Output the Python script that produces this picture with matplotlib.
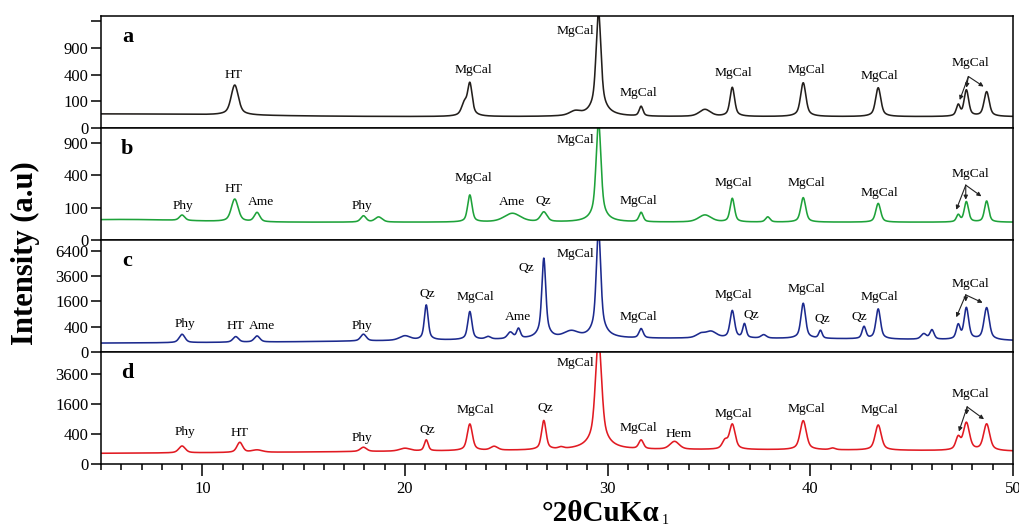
import numpy as np
import matplotlib
matplotlib.use('Agg')
import matplotlib.pyplot as plt
from matplotlib.ticker import MultipleLocator

plt.rcParams['font.family'] = ['Liberation Serif', 'DejaVu Serif']

# --- peak tables: position (deg 2theta), intensity at top, FWHM ---
pos_a = [11.6, 22.95, 23.2, 28.4, 29.55, 31.65, 34.8, 36.15, 39.65, 43.35, 47.3, 47.7, 48.7]
int_a = [260, 90, 280, 36, 1900, 64, 48, 232, 288, 228, 74, 203, 185]
fwhm_a = [0.35, 0.3, 0.22, 0.6, 0.22, 0.2, 0.6, 0.22, 0.25, 0.25, 0.2, 0.22, 0.25]
bg_a = [18, 10, 5.0, 6.0]          # level, hump height, hump centre, hump width

pos_b = [9.0, 11.6, 12.7, 17.95, 18.7, 23.2, 25.3, 26.85, 29.55, 31.65, 34.8, 36.15, 37.9,
         39.65, 43.35, 47.3, 47.7, 48.7]
int_b = [59, 159, 71, 55, 50, 192, 67, 73, 1350, 71, 59, 164, 50, 170, 127, 59, 139, 144]
fwhm_b = [0.3, 0.35, 0.3, 0.3, 0.4, 0.22, 0.9, 0.35, 0.22, 0.22, 0.7, 0.22, 0.25,
          0.25, 0.25, 0.2, 0.22, 0.22]
bg_b = [30, 10, 6.0, 3.0]

pos_c = [9.0, 11.65, 12.7, 17.95, 20.0, 21.05, 23.2, 24.1, 25.2, 25.6, 26.85, 28.2, 29.55,
         31.65, 34.6, 35.1, 36.15, 36.75, 37.7, 39.65, 40.5, 42.65, 43.35, 45.6, 46.0,
         47.3, 47.7, 48.7]
int_c = [196, 147, 160, 196, 160, 1380, 1020, 140, 233, 331, 5490, 257, 9500,
         331, 200, 257, 1067, 490, 180, 1480, 284, 400, 1156, 202, 302,
         455, 1226, 1226]
fwhm_c = [0.3, 0.3, 0.3, 0.3, 0.6, 0.18, 0.2, 0.3, 0.3, 0.2, 0.18, 0.8, 0.2,
          0.22, 0.5, 0.6, 0.22, 0.18, 0.3, 0.22, 0.18, 0.2, 0.22, 0.3, 0.22,
          0.2, 0.22, 0.25]
bg_c = [45, 70, 35.0, 13.0]

pos_d = [9.0, 11.85, 12.7, 17.95, 20.0, 21.05, 23.2, 24.4, 26.85, 27.7, 29.55, 31.65, 33.3,
         35.8, 36.15, 39.65, 41.1, 43.35, 47.3, 47.7, 48.7]
int_d = [144, 208, 87, 124, 109, 256, 711, 134, 834, 110, 7000, 242, 222,
         241, 700, 834, 109, 676, 316, 760, 711]
fwhm_d = [0.35, 0.3, 0.6, 0.35, 0.6, 0.2, 0.25, 0.4, 0.22, 0.3, 0.28, 0.25, 0.5,
          0.3, 0.28, 0.3, 0.3, 0.3, 0.25, 0.3, 0.3]
bg_d = [45, 45, 35.0, 15.0]

samples = ['a', 'b', 'c', 'd']
colors = ['#231f1c', '#1ea23a', '#1c2a8e', '#e11a22']
ylims = [1764, 1190, 7830, 5575]
yticks = [[0, 100, 400, 900, 1600], [0, 100, 400, 900],
          [0, 400, 1600, 3600, 6400], [0, 400, 1600, 3600]]
ytick_labels = [['0', '100', '400', '900', ''], ['0', '100', '400', '900'],
                ['0', '400', '1600', '3600', '6400'], ['0', '400', '1600', '3600']]

# phase labels (text, x centre, y as axes fraction)
labels = [
    [('HT', 11.57, 0.47), ('MgCal', 23.4, 0.52), ('MgCal', 28.4, 0.87), ('MgCal', 31.5, 0.31),
     ('MgCal', 36.2, 0.49), ('MgCal', 39.8, 0.52), ('MgCal', 43.4, 0.46), ('MgCal', 47.9, 0.58)],
    [('Phy', 9.03, 0.30), ('HT', 11.57, 0.455), ('Ame', 12.9, 0.34), ('Phy', 17.87, 0.30),
     ('MgCal', 23.4, 0.55), ('Ame', 25.3, 0.34), ('Qz', 26.84, 0.35), ('MgCal', 28.4, 0.89),
     ('MgCal', 31.5, 0.35), ('MgCal', 36.2, 0.51), ('MgCal', 39.8, 0.51), ('MgCal', 43.4, 0.42),
     ('MgCal', 47.9, 0.59)],
    [('Phy', 9.15, 0.25), ('HT', 11.65, 0.235), ('Ame', 12.93, 0.235), ('Phy', 17.87, 0.235),
     ('Qz', 21.08, 0.52), ('MgCal', 23.5, 0.49), ('Ame', 25.6, 0.31), ('Qz', 26.0, 0.75),
     ('MgCal', 28.4, 0.875), ('MgCal', 31.5, 0.31), ('MgCal', 36.2, 0.51), ('Qz', 37.1, 0.33),
     ('MgCal', 39.8, 0.56), ('Qz', 40.6, 0.295), ('Qz', 42.4, 0.315), ('MgCal', 43.4, 0.49),
     ('MgCal', 47.9, 0.61)],
    [('Phy', 9.15, 0.29), ('HT', 11.86, 0.28), ('Phy', 17.87, 0.23), ('Qz', 21.08, 0.30),
     ('MgCal', 23.5, 0.48), ('Qz', 26.9, 0.50), ('MgCal', 28.4, 0.90), ('MgCal', 31.5, 0.32),
     ('Hem', 33.5, 0.27), ('MgCal', 36.2, 0.45), ('MgCal', 39.8, 0.49), ('MgCal', 43.4, 0.48),
     ('MgCal', 47.9, 0.625)],
]
# arrows from the last MgCal label to the 47-49 deg triplet
arrows = [
    ((47.8, 0.46), [(47.37, 0.25), (47.7, 0.36), (48.55, 0.37)]),
    ((47.67, 0.49), [(47.2, 0.27), (47.67, 0.36), (48.44, 0.39)]),
    ((47.67, 0.51), [(47.2, 0.31), (47.67, 0.45), (48.5, 0.44)]),
    ((47.74, 0.51), [(47.33, 0.29), (47.7, 0.44), (48.57, 0.40)]),
]

tables = [(pos_a, int_a, fwhm_a, bg_a), (pos_b, int_b, fwhm_b, bg_b),
          (pos_c, int_c, fwhm_c, bg_c), (pos_d, int_d, fwhm_d, bg_d)]


def background(x, bg):
    level, amp, c, w = bg
    return level + amp * np.exp(-0.5 * ((x - c) / w) ** 2)


def pattern(x, pos, inten, fwhm, bg, eta=0.5):
    y = background(x, bg)
    for p, h, f in zip(pos, inten, fwhm):
        amp = max(h - background(p, bg), 0)
        lor = 1.0 / (1.0 + ((x - p) / (f / 2)) ** 2)
        gau = np.exp(-4 * np.log(2) * ((x - p) / f) ** 2)
        y = y + amp * (eta * lor + (1 - eta) * gau)
    return y


two_theta = np.linspace(5, 50, 4501)

fig, axes = plt.subplots(4, 1, figsize=(10.19, 5.30), dpi=100, sharex=True)
plt.subplots_adjust(left=0.0991, right=0.9941, top=0.9698, bottom=0.1245, hspace=0)

sq = (lambda v: np.sqrt(np.clip(v, 0, None)), lambda v: np.square(v))

for i, ax in enumerate(axes):
    pos, inten, fwhm, bg = tables[i]
    ax.set_yscale('function', functions=sq)
    ax.plot(two_theta, pattern(two_theta, pos, inten, fwhm, bg), color=colors[i], lw=1.15)
    ax.set_xlim(5, 50)
    ax.set_ylim(0, ylims[i])
    ax.set_yticks(yticks[i])
    ax.set_yticklabels(ytick_labels[i])
    ax.yaxis.set_minor_locator(plt.NullLocator())
    ax.tick_params(axis='y', direction='out', length=7, width=1.1, labelsize=12, pad=2)
    for s in ax.spines.values():
        s.set_linewidth(1.1)

    trans = ax.get_xaxis_transform()
    ax.text(6.3, 0.81, samples[i], transform=trans, fontsize=16, fontweight='bold',
            ha='center', va='center')
    for txt, xl, yl in labels[i]:
        ax.text(xl, yl, txt, transform=trans, fontsize=9.7, ha='center', va='center')
    (x0, y0), targets = arrows[i]
    for xt, yt in targets:
        ax.annotate('', xy=(xt, yt), xytext=(x0, y0), xycoords=trans, textcoords=trans,
                    arrowprops=dict(arrowstyle='-|>', lw=0.8, color='#222222',
                                    mutation_scale=6, shrinkA=0, shrinkB=0))

    if i < 3:
        ax.tick_params(axis='x', which='both', bottom=False, labelbottom=False)

axes[-1].xaxis.set_major_locator(MultipleLocator(10))
axes[-1].xaxis.set_minor_locator(MultipleLocator(1))
axes[-1].tick_params(axis='x', which='major', direction='out', length=8.5, width=1.1,
                     labelsize=12, pad=4)
axes[-1].tick_params(axis='x', which='minor', direction='out', length=4.5, width=1.1)

fig.text(0.0245, 0.523, 'Intensity (a.u)', rotation=90, fontsize=22, fontweight='bold',
         ha='center', va='center')

# x label with a small thin subscript "1" after alpha
xl = fig.text(0.532, 0.032, '°2θCuKα', fontsize=21, fontweight='bold',
              ha='left', va='center')
fig.canvas.draw()
bb = xl.get_window_extent()
fig.text((bb.x1 + 2) / fig.bbox.width, (bb.y0 + 3) / fig.bbox.height, '1',
         fontsize=10, ha='left', va='baseline')

fig.savefig('out.png', dpi=100)
